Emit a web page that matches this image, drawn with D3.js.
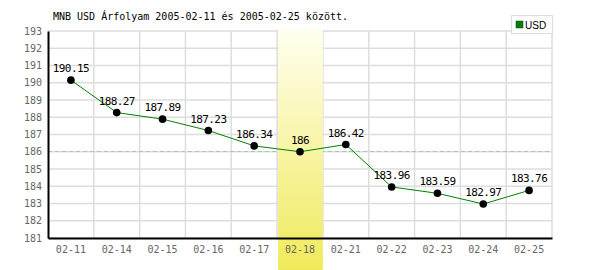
<!DOCTYPE html>
<html>
<head>
<meta charset="utf-8">
<script src="https://cdn.jsdelivr.net/npm/d3@7"></script>
<style>
  body { margin: 0; background: #fff; }
  svg text { font-family: "DejaVu Sans Mono", monospace; font-size: 10px; }
</style>
</head>
<body>
<div id="chart"></div>
<script>
const dates = ['02-11', '02-14', '02-15', '02-16', '02-17', '02-18', '02-21', '02-22', '02-23', '02-24', '02-25'];
const usdRates = [190.15, 188.27, 187.89, 187.23, 186.34, 186, 186.42, 183.96, 183.59, 182.97, 183.76];
const yTicks = [181, 182, 183, 184, 185, 186, 187, 188, 189, 190, 191, 192, 193];
const highlightDate = '02-18';
const titleText = 'MNB USD Árfolyam 2005-02-11 és 2005-02-25 között.';
const seriesName = 'USD';

const width = 600, height = 270;
const margin = {top: 31, right: 48, bottom: 32, left: 48};

const svg = d3.select('#chart').append('svg')
    .attr('width', width)
    .attr('height', height);

const x = d3.scaleBand()
    .domain(dates)
    .range([margin.left, width - margin.right]);

const y = d3.scaleLinear()
    .domain([181, 193])
    .range([height - margin.bottom, margin.top]);

// grid
const grid = svg.append('g').attr('stroke', '#dddddd').attr('stroke-width', 1.5);
grid.selectAll('line.h')
    .data(yTicks)
  .enter().append('line')
    .attr('x1', margin.left)
    .attr('x2', width - margin.right)
    .attr('y1', d => y(d))
    .attr('y2', d => y(d));
grid.selectAll('line.v')
    .data(dates.slice(1).concat(['end']))
  .enter().append('line')
    .attr('x1', d => d === 'end' ? width - margin.right : x(d))
    .attr('x2', d => d === 'end' ? width - margin.right : x(d))
    .attr('y1', y(193))
    .attr('y2', y(181));

// average line
const avg = d3.mean(usdRates);
svg.append('line')
    .attr('x1', margin.left)
    .attr('x2', width - margin.right)
    .attr('y1', Math.round(y(avg)) + 0.5)
    .attr('y2', Math.round(y(avg)) + 0.5)
    .attr('stroke', '#a8c8a8')
    .attr('stroke-dasharray', '4,3');

// highlighted day, fading from pale at the top to yellow at the bottom (drawn over the grid)
const grad = svg.append('defs').append('linearGradient')
    .attr('id', 'hl')
    .attr('x1', 0).attr('y1', 0).attr('x2', 0).attr('y2', 1);
grad.append('stop').attr('offset', '0%').attr('stop-color', '#fffff0');
grad.append('stop').attr('offset', '100%').attr('stop-color', '#f0ea5a');

svg.append('rect')
    .attr('x', x(highlightDate) + 1)
    .attr('y', margin.top - 2)
    .attr('width', x.bandwidth() - 1)
    .attr('height', height - margin.top + 2)
    .attr('fill', 'url(#hl)');

// axes
const yAxis = svg.append('g')
    .attr('transform', 'translate(' + margin.left + ',0)')
    .call(d3.axisLeft(y).tickValues(yTicks).tickSize(0).tickPadding(6).tickFormat(d3.format('d')));
yAxis.select('.domain').attr('stroke', '#000').attr('stroke-width', 2);
yAxis.selectAll('text').attr('fill', '#666');

const xAxis = svg.append('g')
    .attr('transform', 'translate(0,' + (height - margin.bottom) + ')')
    .call(d3.axisBottom(x).tickSize(0).tickPadding(8));
xAxis.select('.domain').attr('stroke', '#000').attr('stroke-width', 2);
xAxis.selectAll('text').attr('fill', '#666');

// series
const line = d3.line()
    .x((d, i) => x(dates[i]) + x.bandwidth() / 2)
    .y(d => y(d));

svg.append('path')
    .datum(usdRates)
    .attr('fill', 'none')
    .attr('stroke', '#008000')
    .attr('stroke-width', 1)
    .attr('d', line);

svg.selectAll('circle.pt')
    .data(usdRates)
  .enter().append('circle')
    .attr('cx', (d, i) => x(dates[i]) + x.bandwidth() / 2)
    .attr('cy', d => y(d))
    .attr('r', 3.8)
    .attr('fill', '#000');

svg.selectAll('text.val')
    .data(usdRates)
  .enter().append('text')
    .attr('x', (d, i) => x(dates[i]) + x.bandwidth() / 2)
    .attr('y', d => y(d) - 8)
    .attr('text-anchor', 'middle')
    .attr('fill', '#000')
    .style('font-size', '11px')
    .style('letter-spacing', '-0.6px')
    .text(d => d);

// title
svg.append('text')
    .attr('x', 53)
    .attr('y', 20)
    .attr('fill', '#000')
    .text(titleText);

// legend
const legend = svg.append('g').attr('transform', 'translate(511,15)');
legend.append('rect')
    .attr('x', 0.5).attr('y', 0.5)
    .attr('width', 41).attr('height', 18)
    .attr('fill', '#fff')
    .attr('stroke', '#dddddd');
legend.append('rect')
    .attr('x', 5).attr('y', 6)
    .attr('width', 7).attr('height', 7)
    .attr('fill', '#008000')
    .attr('stroke', '#333')
    .attr('stroke-width', 0.5);
legend.append('text')
    .attr('x', 14)
    .attr('y', 13.5)
    .attr('fill', '#000')
    .style('font-family', 'Liberation Sans, Arial, sans-serif')
    .style('font-size', '10px')
    .text(seriesName);
</script>
</body>
</html>
